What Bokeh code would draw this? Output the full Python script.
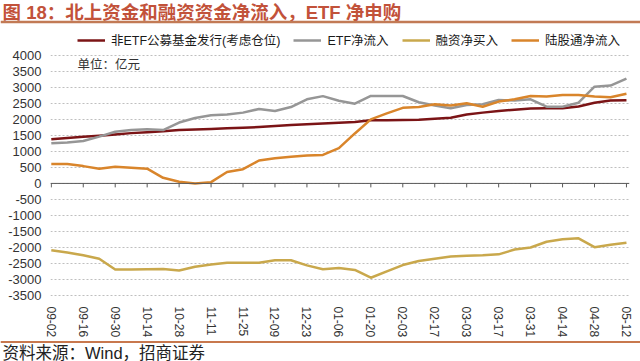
from bokeh.plotting import figure
from bokeh.models import Range1d, FixedTicker, Span, Label, Legend, LegendItem
from bokeh.layouts import column
from bokeh.embed import file_html
from bokeh.resources import INLINE
from bokeh.core.properties import value

# ---------------- data ----------------
title_text = "图 18：北上资金和融资资金净流入，ETF 净申购"
source_text = "资料来源：Wind，招商证券"
unit_text = "单位：亿元"

tick_labels = ["09-02", "09-16", "09-30", "10-14", "10-28", "11-11", "11-25",
               "12-09", "12-23", "01-06", "01-20", "02-03", "02-17", "03-03",
               "03-17", "03-31", "04-14", "04-28", "05-12"]
weeks = list(range(37))  # weekly observations, labels every second week

series_names = ["非ETF公募基金发行(考虑仓位)", "ETF净流入", "融资净买入", "陆股通净流入"]

non_etf_fund = [1375, 1420, 1455, 1490, 1530, 1570, 1600, 1625, 1665, 1680,
                1700, 1720, 1740, 1760, 1790, 1820, 1850, 1870, 1890, 1920,
                1970, 1975, 1980, 1990, 2015, 2050, 2150, 2210, 2260, 2300,
                2335, 2345, 2350, 2400, 2520, 2590, 2600]

etf_inflow = [1250, 1280, 1325, 1460, 1615, 1665, 1690, 1665, 1900, 2040,
              2130, 2155, 2210, 2325, 2260, 2385, 2625, 2725, 2580, 2490,
              2730, 2730, 2730, 2535, 2430, 2345, 2450, 2470, 2605, 2585,
              2625, 2395, 2395, 2520, 3020, 3055, 3270]

margin_buy = [-2085, -2160, -2245, -2350, -2690, -2690, -2680, -2670, -2720, -2600,
              -2530, -2480, -2480, -2480, -2400, -2400, -2560, -2680, -2640, -2700,
              -2945, -2745, -2550, -2420, -2350, -2280, -2255, -2245, -2215, -2065,
              -2000, -1820, -1745, -1715, -1990, -1915, -1850]

northbound = [605, 605, 540, 460, 520, 490, 460, 175, 50, 0,
              40, 355, 445, 715, 785, 830, 870, 890, 1100, 1560,
              2000, 2185, 2360, 2385, 2470, 2430, 2500, 2395, 2555, 2625,
              2730, 2710, 2760, 2760, 2710, 2690, 2800]

y_ticks = list(range(-3500, 4001, 500))

# ---------------- styles ----------------
FONT = "Liberation Sans, Noto Sans CJK SC"
colors = ["#7B1416", "#969696", "#C9A84C", "#D9852B"]
W = 640
H_HEAD, H_MAIN, H_FOOT = 26, 314, 21

# ---------------- header ----------------
h = figure(width=W, height=H_HEAD, x_range=Range1d(0, W), y_range=Range1d(H_HEAD, 0),
           x_axis_type=None, y_axis_type=None, toolbar_location=None,
           output_backend="svg", min_border=0, outline_line_color=None,
           frame_align=False)
h.text(x=[2], y=[1.5], text=[title_text], text_baseline="top", text_align="left",
       text_font=value(FONT), text_font_style=value("bold"),
       text_font_size=value("18.5px"), text_color="#C2523A")
h.add_layout(Span(location=21.5, dimension="width", line_color="#C27A55", line_width=2.5))

# ---------------- main chart ----------------
p = figure(width=W, height=H_MAIN, x_range=Range1d(-0.05, 36.19),
           y_range=Range1d(-3531, 4899), toolbar_location=None,
           output_backend="svg", min_border_left=50, min_border_right=11,
           min_border_top=0, min_border_bottom=42, outline_line_color=None,
           frame_align=False)

x_ticks = weeks[::2]
p.xaxis.ticker = FixedTicker(ticks=x_ticks)
p.xaxis.major_label_overrides = {t: lab for t, lab in zip(x_ticks, tick_labels)}
p.xaxis.major_label_orientation = "vertical"
p.xaxis.axis_line_color = None
p.xaxis.major_tick_line_color = None
p.xaxis.minor_tick_line_color = None
p.xaxis.major_label_standoff = 4
p.xaxis.major_label_text_font = FONT
p.xaxis.major_label_text_font_size = "12px"
p.xaxis.major_label_text_color = "#333333"

p.yaxis.ticker = FixedTicker(ticks=y_ticks)
p.yaxis.major_label_overrides = {t: str(t) for t in y_ticks}
p.yaxis.axis_line_color = None
p.yaxis.major_tick_line_color = None
p.yaxis.minor_tick_line_color = None
p.yaxis.major_label_standoff = 3
p.yaxis.major_label_text_font = FONT
p.yaxis.major_label_text_font_size = "13px"
p.yaxis.major_label_text_color = "#333333"

p.xgrid.visible = False
p.ygrid.ticker = FixedTicker(ticks=y_ticks)
p.ygrid.grid_line_color = "#BFBFBF"
p.ygrid.grid_line_dash = "2 2"
p.ygrid.grid_line_width = 1

# zero axis line with tick marks
p.add_layout(Span(location=0, dimension="width", line_color="#595959", line_width=1))
tick_len = 4 / 32.27 * 1000
p.segment(x0=x_ticks, y0=[0] * len(x_ticks), x1=x_ticks, y1=[-tick_len] * len(x_ticks),
          line_color="#595959", line_width=1)

renderers = []
for ys, c in zip([non_etf_fund, etf_inflow, margin_buy, northbound], colors):
    r = p.line(weeks, ys, line_color=c, line_width=2.5, line_join="round")
    renderers.append(r)

legend = Legend(items=[LegendItem(label=n, renderers=[r]) for n, r in zip(series_names, renderers)],
                orientation="horizontal", location=(27, 247),
                glyph_width=28, glyph_height=14, label_height=14, label_standoff=6,
                spacing=13, padding=0, margin=0, border_line_color=None,
                background_fill_alpha=0, label_text_font=FONT,
                label_text_font_size="12.5px", label_text_color="#1A1A1A")
p.add_layout(legend)

p.add_layout(Label(x=27, y=232, x_units="screen", y_units="screen", text=unit_text,
                   text_font=FONT, text_font_size="12.5px", text_baseline="middle",
                   text_color="#333333"))

# ---------------- footer ----------------
f = figure(width=W, height=H_FOOT, x_range=Range1d(0, W), y_range=Range1d(H_FOOT, 0),
           x_axis_type=None, y_axis_type=None, toolbar_location=None,
           output_backend="svg", min_border=0, outline_line_color=None,
           frame_align=False)
f.add_layout(Span(location=1.5, dimension="width", line_color="#C8784E", line_width=2))
f.text(x=[2], y=[12], text=[source_text], text_baseline="middle", text_align="left",
       text_font=value(FONT), text_font_size=value("16.5px"), text_color="#222222")

layout = column(h, p, f, spacing=0)
open("out.html", "w").write(file_html(layout, INLINE))
